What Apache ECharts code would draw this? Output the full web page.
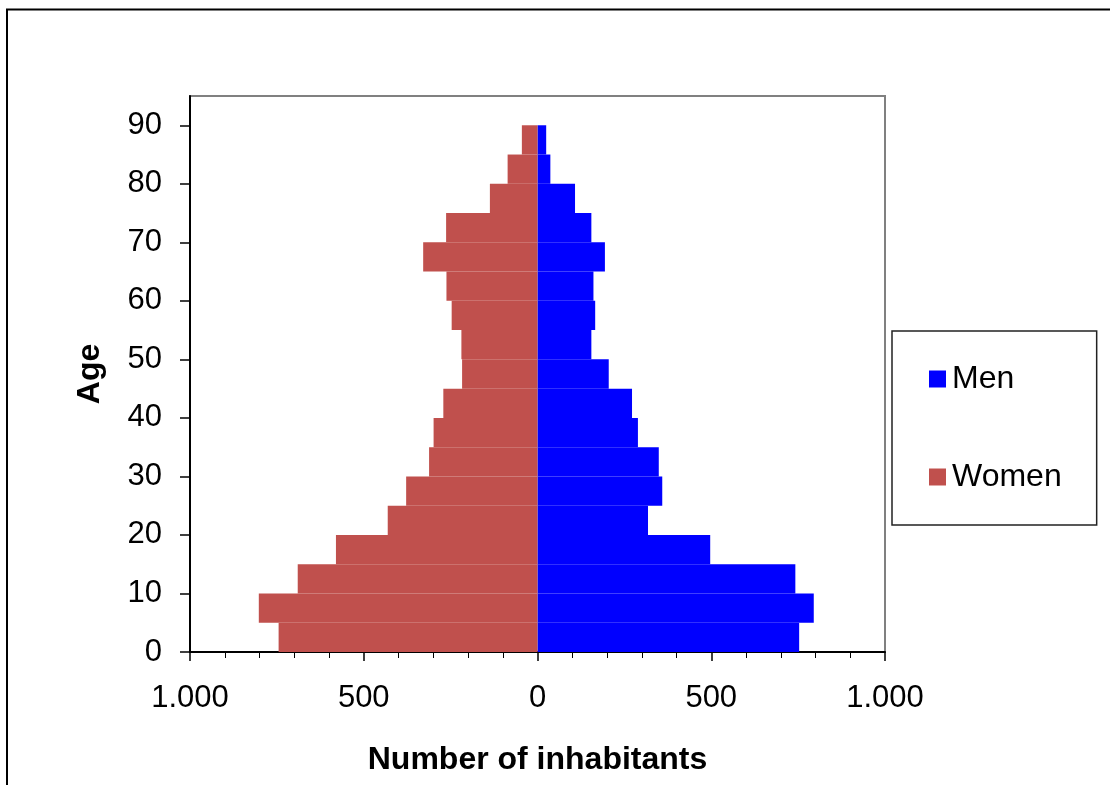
<!DOCTYPE html>
<html>
<head>
<meta charset="utf-8">
<script src="https://cdn.jsdelivr.net/npm/echarts@6/dist/echarts.min.js"></script>
<style>
html,body{margin:0;padding:0;background:#fff;}
#chart{width:1110px;height:785px;}
</style>
</head>
<body>
<div id="chart"></div>
<script>
// Age groups (5-year bands), bottom to top; the top band (90-94) is empty
var ageGroups = ['0-4','5-9','10-14','15-19','20-24','25-29','30-34','35-39','40-44','45-49','50-54','55-59','60-64','65-69','70-74','75-79','80-84','85-89','90-94'];
// Number of men per age group
var men = [753, 795, 742, 497, 318, 359, 349, 289, 272, 205, 155, 166, 161, 194, 155, 108, 37, 25];
// Number of women per age group
var women = [745, 802, 690, 580, 431, 378, 312, 299, 271, 217, 219, 247, 262, 329, 263, 137, 86, 45];
// Axis ticks
var ageTicks = [0, 10, 20, 30, 40, 50, 60, 70, 80, 90];
var ageMax = 95;
var countTicks = [-1000, -500, 0, 500, 1000];

var FONT = 'Liberation Sans, Arial, sans-serif';
var chart = echarts.init(document.getElementById('chart'));

function fmtCount(v) {
  var a = Math.abs(v);
  return String(a).replace(/\B(?=(\d{3})+(?!\d))/g, '.');
}

chart.setOption({
  animation: false,
  backgroundColor: '#ffffff',
  graphic: [{
    type: 'rect',
    shape: { x: 7, y: 9.5, width: 1200, height: 900 },
    style: { fill: 'none', stroke: '#000', lineWidth: 2 },
    silent: true, z: -1
  }],
  grid: {
    left: 190, right: 225, top: 96, bottom: 133,
    show: true, borderColor: '#808080', borderWidth: 2, backgroundColor: 'transparent'
  },
  legend: {
    data: ['Men', 'Women'],
    orient: 'vertical',
    left: 892, top: 331,
    icon: 'rect',
    itemWidth: 17, itemHeight: 17,
    itemGap: 66,
    padding: [32, 35, 32, 37],
    borderColor: '#222', borderWidth: 1.5,
    textStyle: { fontFamily: FONT, fontSize: 32, color: '#000', lineHeight: 30, padding: [0, 0, 0, 1] }
  },
  xAxis: {
    type: 'value',
    min: countTicks[0], max: countTicks[countTicks.length - 1], interval: 500,
    name: 'Number of inhabitants',
    nameLocation: 'middle',
    nameGap: 92,
    nameTextStyle: { fontFamily: FONT, fontSize: 32, fontWeight: 'bold', color: '#000' },
    axisLine: { show: true, onZero: false, lineStyle: { color: '#000', width: 2 } },
    axisTick: { show: true, inside: false, length: 9, lineStyle: { color: '#000', width: 1.5 } },
    minorTick: { show: true, splitNumber: 5, length: 6, lineStyle: { color: '#000', width: 1 } },
    splitLine: { show: false },
    axisLabel: { fontFamily: FONT, fontSize: 31, color: '#000', margin: 31, formatter: fmtCount }
  },
  yAxis: [{
    type: 'category',
    data: ageGroups,
    show: false,
    boundaryGap: true
  }, {
    type: 'value',
    min: ageTicks[0], max: ageMax,
    name: 'Age',
    nameLocation: 'middle',
    nameRotate: 90,
    nameGap: 84,
    nameTextStyle: { fontFamily: FONT, fontSize: 32, fontWeight: 'bold', color: '#000' },
    position: 'left',
    axisLine: { show: true, lineStyle: { color: '#000', width: 2 } },
    axisTick: { show: true, inside: false, length: 10, customValues: ageTicks, lineStyle: { color: '#000', width: 1.5 } },
    splitLine: { show: false },
    axisLabel: { fontFamily: FONT, fontSize: 31, color: '#000', margin: 28, customValues: ageTicks }
  }],
  series: [{
    name: 'Men',
    type: 'bar',
    yAxisIndex: 0,
    stack: 'pop',
    barCategoryGap: '0%',
    itemStyle: { color: '#0000FF' },
    data: men
  }, {
    name: 'Women',
    type: 'bar',
    yAxisIndex: 0,
    stack: 'pop',
    barCategoryGap: '0%',
    itemStyle: { color: '#C0504D' },
    data: women.map(function (v) { return -v; })
  }]
});
</script>
</body>
</html>
